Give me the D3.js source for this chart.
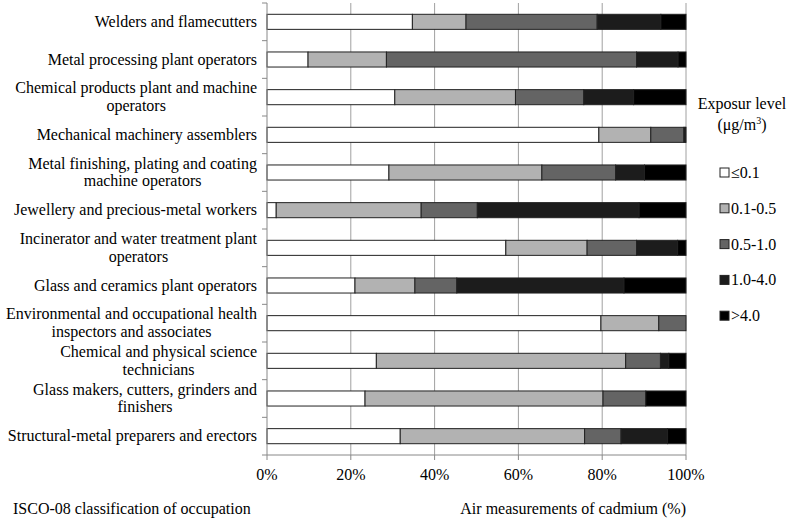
<!DOCTYPE html>
<html>
<head>
<meta charset="utf-8">
<script src="https://cdn.jsdelivr.net/npm/d3@7"></script>
</head>
<body style="margin:0;background:#fff;font-family:'Liberation Serif'">
<svg id="chart" width="787" height="522" style="font-family:'Liberation Serif'"></svg>
<script>
// occupations, top to bottom (lines of each label)
var occupations = [
  ["Welders and flamecutters"],
  ["Metal processing plant operators"],
  ["Chemical products plant and machine", "operators"],
  ["Mechanical machinery assemblers"],
  ["Metal finishing, plating and coating", "machine operators"],
  ["Jewellery and precious-metal workers"],
  ["Incinerator and water treatment plant", "operators"],
  ["Glass and ceramics plant operators"],
  ["Environmental and occupational health", "inspectors and associates"],
  ["Chemical and physical science", "technicians"],
  ["Glass makers, cutters, grinders and", "finishers"],
  ["Structural-metal preparers and erectors"]
];

var levels = ["\u22640.1", "0.1-0.5", "0.5-1.0", "1.0-4.0", ">4.0"];
var colors = ["#ffffff", "#b2b2b2", "#646464", "#1c1c1c", "#000000"];

// % of air measurements per level
var lvl01   = [34.7,  9.8, 30.5, 79.2, 29.1,  2.2, 57.0, 21.0, 79.7, 26.1, 23.4, 31.8];
var lvl05   = [12.8, 18.7, 28.8, 12.4, 36.5, 34.6, 19.4, 14.3, 13.8, 59.5, 56.8, 44.0];
var lvl10   = [31.3, 59.7, 16.3,  7.9, 17.6, 13.4, 11.8, 10.0,  6.5,  8.3, 10.2,  8.7];
var lvl40   = [15.2,  9.9, 11.9,  0.3,  6.9, 38.6,  9.8, 39.9,  0.0,  2.0,  0.0, 11.1];
var lvlOver = [ 6.0,  1.9, 12.5,  0.2,  9.9, 11.2,  2.0, 14.8,  0.0,  4.1,  9.6,  4.4];

var xTicks = [0, 20, 40, 60, 80, 100];

var FONT = "'Liberation Serif'";
var SIZE = 16;
var svg = d3.select("#chart");
var margin = {left: 267, right: 101, top: 3, bottom: 67};
var W = 787 - margin.left - margin.right;
var H = 522 - margin.top - margin.bottom;

function label(sel, size) {
  return sel.style("font-family", FONT).style("font-size", size + "px").attr("fill", "#000");
}

var g = svg.append("g").attr("transform", "translate(" + margin.left + "," + margin.top + ")");

var x = d3.scaleLinear().domain([0, 100]).range([0, W]);
var y = d3.scaleBand().domain(d3.range(occupations.length)).range([0, H]).paddingInner(0.6).paddingOuter(0.3);

// table for stacking
var rows = occupations.map(function(d, i) {
  return {i: i, l0: lvl01[i], l1: lvl05[i], l2: lvl10[i], l3: lvl40[i], l4: lvlOver[i]};
});
var stack = d3.stack().keys(["l0", "l1", "l2", "l3", "l4"]);
var series = stack(rows);

// gridlines
g.selectAll("line.grid").data(xTicks.slice(1))
  .enter().append("line").attr("class", "grid")
  .attr("x1", function(d) { return x(d); }).attr("x2", function(d) { return x(d); })
  .attr("y1", 0).attr("y2", H)
  .attr("stroke", "#a0a0a0").attr("stroke-width", 1);

// bars
var layer = g.selectAll("g.layer").data(series)
  .enter().append("g").attr("class", "layer")
  .attr("fill", function(d, i) { return colors[i]; });

layer.selectAll("rect").data(function(d) { return d.filter(function(s) { return s[1] - s[0] > 0; }); })
  .enter().append("rect")
  .attr("x", function(d) { return x(d[0]); })
  .attr("width", function(d) { return x(d[1]) - x(d[0]); })
  .attr("y", function(d) { return y(d.data.i); })
  .attr("height", y.bandwidth())
  .attr("stroke", "#222").attr("stroke-width", 1);

// left axis
var step = y.step();
g.append("line").attr("x1", 0).attr("x2", 0).attr("y1", 0).attr("y2", H)
  .attr("stroke", "#888");
g.selectAll("line.ytick").data(d3.range(occupations.length + 1))
  .enter().append("line").attr("class", "ytick")
  .attr("x1", -5).attr("x2", 0)
  .attr("y1", function(d) { return d * step; }).attr("y2", function(d) { return d * step; })
  .attr("stroke", "#888");

// bottom axis
g.append("line").attr("x1", 0).attr("x2", W).attr("y1", H).attr("y2", H).attr("stroke", "#888");
g.selectAll("line.xtick").data(xTicks)
  .enter().append("line").attr("class", "xtick")
  .attr("x1", function(d) { return x(d); }).attr("x2", function(d) { return x(d); })
  .attr("y1", H).attr("y2", H + 5)
  .attr("stroke", "#888");
label(g.selectAll("text.xlab").data(xTicks)
  .enter().append("text").attr("class", "xlab")
  .attr("x", function(d) { return x(d); }).attr("y", H + 25)
  .attr("text-anchor", "middle"), SIZE)
  .text(function(d) { return d + "%"; });

// category labels: lines centred on each other, block right-aligned
var labels = g.selectAll("g.cat").data(occupations)
  .enter().append("g").attr("class", "cat");
labels.each(function(lines, i) {
  var grp = d3.select(this);
  var cy = y(i) + y.bandwidth() / 2;
  var lh = 17.5;
  var t = label(grp.selectAll("text").data(lines).enter().append("text")
    .attr("y", function(d, k) { return cy + (k - (lines.length - 1) / 2) * lh + 5; })
    .attr("text-anchor", "middle"), SIZE)
    .text(function(d) { return d; });
  var maxW = 0;
  t.each(function() { maxW = Math.max(maxW, this.getComputedTextLength()); });
  t.attr("x", -10 - maxW / 2);
});

// axis titles
label(svg.append("text").attr("x", 13).attr("y", 514), SIZE)
  .text("ISCO-08 classification of occupation");
label(svg.append("text").attr("x", margin.left + W).attr("y", 514).attr("text-anchor", "end"), SIZE)
  .text("Air measurements of cadmium (%)");

// legend
var lg = svg.append("g").attr("transform", "translate(720,0)");
label(lg.append("text").attr("x", 22).attr("y", 109).attr("text-anchor", "middle"), SIZE)
  .text("Exposur level");
var unit = label(lg.append("text").attr("x", 22).attr("y", 130).attr("text-anchor", "middle"), SIZE);
unit.append("tspan").text("(\u03bcg/m");
unit.append("tspan").attr("dy", -6).style("font-size", "10px").text("3");
unit.append("tspan").attr("dy", 6).text(")");

var item = lg.selectAll("g.item").data(levels)
  .enter().append("g").attr("class", "item")
  .attr("transform", function(d, i) { return "translate(0," + (173 + i * 35.8) + ")"; });
item.append("rect").attr("x", 0).attr("y", -5).attr("width", 9).attr("height", 9)
  .attr("fill", function(d, i) { return colors[i]; }).attr("stroke", "#222");
label(item.append("text").attr("x", 11).attr("y", 5), SIZE)
  .text(function(d) { return d; });
</script>
</body>
</html>
